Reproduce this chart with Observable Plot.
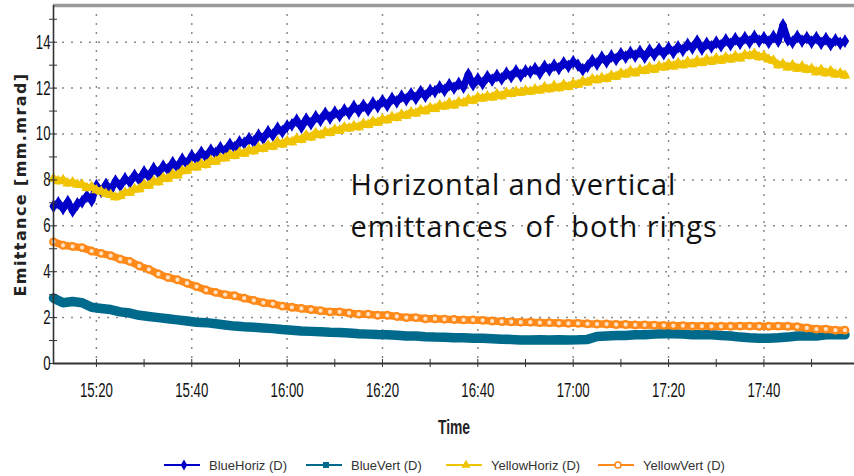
<!DOCTYPE html>
<html><head><meta charset="utf-8">
<script src="https://cdn.jsdelivr.net/npm/d3@7"></script>
<script src="https://cdn.jsdelivr.net/npm/@observablehq/plot@0.6"></script>
<style>
body{margin:0;background:#fff;}
#chart svg, #legend svg{display:block;}
</style></head><body><div id="chart"></div><div id="legend"></div><script>
// ---- data ----
const startTime = "15:11";          // first sample
const horizStepMin = 1;             // horizontal emittances, one sample per minute
const vertStepMin = 2;              // vertical emittances, one sample per two minutes
const domainTimes = ["15:11", "17:59"];

const blueHoriz = [
  6.85, 7.0, 6.75, 7.05, 6.65, 6.95, 7.05, 7.3, 7.1, 7.75,
  7.5, 7.8, 7.55, 7.95, 7.75, 8.05, 7.9, 8.2, 8.0, 8.35,
  8.15, 8.5, 8.3, 8.6, 8.45, 8.75, 8.55, 8.9, 8.7, 9.05,
  8.9, 9.2, 9.0, 9.3, 9.15, 9.4, 9.25, 9.55, 9.4, 9.65,
  9.6, 9.8, 9.65, 9.95, 9.8, 10.1, 9.95, 10.25, 10.1, 10.35,
  10.4, 10.6, 10.3, 10.65, 10.45, 10.75, 10.6, 10.9, 10.7, 10.95,
  10.8, 11.05, 10.9, 11.2, 11.0, 11.25, 11.05, 11.35, 11.2, 11.45,
  11.25, 11.55, 11.4, 11.65, 11.5, 11.75, 11.55, 11.85, 11.65, 11.9,
  11.85, 12.05, 11.9, 12.15, 12.0, 12.2, 12.05, 12.6, 12.15, 12.4,
  12.2, 12.5, 12.35, 12.55, 12.4, 12.65, 12.5, 12.75, 12.55, 12.75,
  12.7, 12.85, 12.65, 12.95, 12.8, 13.0, 12.85, 13.1, 12.95, 13.15,
  13.0, 12.8, 12.95, 13.2, 13.05, 13.35, 13.15, 13.4, 13.25, 13.5,
  13.35, 13.55, 13.4, 13.6, 13.35, 13.65, 13.45, 13.7, 13.5, 13.75,
  13.55, 13.8, 13.65, 13.9, 13.75, 14.05, 13.7, 13.95, 13.8, 14.0,
  13.85, 14.1, 13.9, 14.15, 13.95, 14.2, 14.0, 14.25, 14.05, 14.2,
  14.0, 14.25, 14.05, 14.75, 14.1, 14.0, 14.25, 14.05, 14.2, 14.0,
  14.2, 13.95, 14.15, 13.9, 14.1, 13.95, 14.05
];
const yellowHoriz = [
  8.05, 7.95, 8.0, 7.85, 7.9, 7.8, 7.8, 7.65, 7.7, 7.55,
  7.5, 7.4, 7.35, 7.25, 7.3, 7.45, 7.45, 7.6, 7.6, 7.8,
  7.75, 7.95, 7.9, 8.1, 8.05, 8.25, 8.2, 8.4, 8.4, 8.6,
  8.55, 8.7, 8.65, 8.85, 8.8, 8.95, 8.95, 9.1, 9.05, 9.2,
  9.15, 9.3, 9.25, 9.4, 9.35, 9.5, 9.45, 9.65, 9.55, 9.7,
  9.65, 9.8, 9.75, 9.95, 9.85, 10.05, 9.95, 10.1, 10.05, 10.2,
  10.15, 10.3, 10.25, 10.35, 10.3, 10.45, 10.4, 10.55, 10.5, 10.65,
  10.6, 10.75, 10.7, 10.85, 10.8, 10.95, 10.9, 11.05, 11.0, 11.15,
  11.1, 11.25, 11.2, 11.35, 11.25, 11.4, 11.35, 11.5, 11.45, 11.6,
  11.55, 11.65, 11.6, 11.75, 11.65, 11.8, 11.75, 11.85, 11.8, 11.9,
  11.85, 11.95, 11.9, 12.05, 11.95, 12.1, 12.0, 12.15, 12.05, 12.2,
  12.15, 12.3, 12.25, 12.4, 12.35, 12.45, 12.4, 12.55, 12.5, 12.65,
  12.6, 12.75, 12.65, 12.8, 12.75, 12.9, 12.8, 12.95, 12.9, 13.05,
  12.95, 13.1, 13.0, 13.15, 13.05, 13.2, 13.1, 13.25, 13.15, 13.3,
  13.2, 13.35, 13.25, 13.4, 13.3, 13.45, 13.4, 13.5, 13.35, 13.4,
  13.25, 13.2, 13.0, 13.05, 12.9, 13.0, 12.85, 12.95, 12.8, 12.85,
  12.7, 12.8, 12.65, 12.75, 12.6, 12.65, 12.55
];
const blueVert = [
  2.85, 2.65, 2.7, 2.65, 2.45, 2.4, 2.35, 2.25, 2.2, 2.1,
  2.05, 2.0, 1.95, 1.9, 1.85, 1.8, 1.78, 1.73, 1.68, 1.63,
  1.6, 1.58, 1.55, 1.52, 1.48, 1.45, 1.42, 1.4, 1.38, 1.36,
  1.35, 1.33, 1.3, 1.28, 1.26, 1.25, 1.23, 1.2, 1.2, 1.17,
  1.15, 1.14, 1.12, 1.12, 1.1, 1.1, 1.08, 1.06, 1.05, 1.02,
  1.02, 1.03, 1.02, 1.03, 1.02, 1.03, 1.05, 1.18, 1.2, 1.22,
  1.22, 1.25, 1.25, 1.28, 1.3, 1.3, 1.28, 1.25, 1.25, 1.25,
  1.22, 1.2, 1.15, 1.12, 1.1, 1.1, 1.12, 1.15, 1.2, 1.2,
  1.2, 1.25, 1.25, 1.25
];
const yellowVert = [
  5.3, 5.15, 5.1, 5.05, 4.9, 4.8, 4.7, 4.55, 4.45, 4.25,
  4.1, 3.9, 3.75, 3.65, 3.5, 3.35, 3.2, 3.1, 3.0, 2.95,
  2.85, 2.75, 2.65, 2.6, 2.5, 2.45, 2.4, 2.35, 2.3, 2.25,
  2.25, 2.2, 2.15, 2.15, 2.1, 2.1, 2.05, 2.0, 2.0, 1.95,
  1.95, 1.93, 1.92, 1.9, 1.9, 1.88, 1.85, 1.83, 1.82, 1.8,
  1.8, 1.78, 1.78, 1.76, 1.75, 1.75, 1.73, 1.72, 1.72, 1.7,
  1.7, 1.68, 1.68, 1.67, 1.66, 1.65, 1.65, 1.63, 1.63, 1.62,
  1.62, 1.62, 1.63, 1.63, 1.62, 1.62, 1.63, 1.62, 1.6, 1.55,
  1.5, 1.5, 1.45, 1.45
];
const xTickLabels = ["15:20", "15:40", "16:00", "16:20", "16:40", "17:00", "17:20", "17:40"];
const xMinorTickLabels = ["15:20","15:30","15:40","15:50","16:00","16:10","16:20","16:30","16:40","16:50","17:00","17:10","17:20","17:30","17:40","17:50"];
const yTickLabels = [0, 2, 4, 6, 8, 10, 12, 14];
const yMinorTicks = [0, 1, 2, 3, 4, 5, 6, 7, 8, 9, 10, 11, 12, 13, 14, 15];
const yMax = 15.6;
const seriesNames = ["BlueHoriz (D)", "BlueVert (D)", "YellowHoriz (D)", "YellowVert (D)"];
const seriesColors = ["#0000c8", "#006a8c", "#f0c400", "#ff8a1a"];
const seriesSymbols = ["diamond", "square", "triangle", "circle"];
const yAxisLabel = "Emittance [mm.mrad]";
const xAxisLabel = "Time";
const annotationLines = ["Horizontal and vertical", "emittances  of  both rings"];
const annotationTime = "16:13:18";
const annotationValues = [7.33, 5.5];

// ---- helpers ----
function tm(s) { const [h, m, sec] = s.split(":").map(Number); return new Date(Date.UTC(2000, 0, 1, h, m, sec || 0)); }
const t0 = tm(startTime);
const rows = (vals, step) => vals.map((v, i) => ({t: new Date(+t0 + i * step * 60000), v}));
const bh = rows(blueHoriz, horizStepMin);
const yh = rows(yellowHoriz, horizStepMin);
const bv = rows(blueVert, vertStepMin);
const yv = rows(yellowVert, vertStepMin);
const fmt = d3.utcFormat("%H:%M");
const annot = annotationLines.map((label, i) => ({t: tm(annotationTime), v: annotationValues[i], label}));
const sans = "'Liberation Sans', Arial, sans-serif";

const grid = {stroke: "#8a8a8a", strokeDasharray: "2,7", strokeWidth: 1.5, strokeOpacity: 1};

const plot = Plot.plot({
  width: 854, height: 440,
  marginLeft: 53, marginRight: 0, marginTop: 5, marginBottom: 77,
  style: {fontFamily: sans, fontSize: "20px", color: "#111", background: "white", overflow: "visible"},
  x: {type: "utc", domain: domainTimes.map(tm)},
  y: {domain: [0, yMax]},
  marks: [
    Plot.ruleX(xTickLabels.map(tm), grid),
    Plot.ruleY(yTickLabels.filter(d => d > 0), grid),
    Plot.ruleY([yMax], {stroke: "#9a9a9a", strokeWidth: 3.5}),
    // series
    Plot.line(bh, {x: "t", y: "v", stroke: seriesColors[0], strokeWidth: 7}),
    Plot.dot(bh, {x: "t", y: "v", symbol: "diamond", r: 4.2, fill: seriesColors[0]}),
    Plot.line(bv, {x: "t", y: "v", stroke: seriesColors[1], strokeWidth: 9.5}),
    Plot.line(yh, {x: "t", y: "v", stroke: seriesColors[2], strokeWidth: 7}),
    Plot.dot(yh, {x: "t", y: "v", symbol: "triangle", r: 4, fill: seriesColors[2]}),
    Plot.line(yv, {x: "t", y: "v", stroke: seriesColors[3], strokeWidth: 7.5}),
    Plot.dot(yv, {x: "t", y: "v", r: 3.3, stroke: seriesColors[3], strokeWidth: 2.3, fill: "#ffe2c4"}),
    // axes lines
    Plot.ruleX([tm(domainTimes[0])], {stroke: "#333", strokeWidth: 1.6}),
    Plot.ruleY([0], {stroke: "#333", strokeWidth: 2}),
    Plot.axisY({ticks: yMinorTicks, tickSize: 8, dx: 4, tickFormat: () => "", label: null, stroke: "#333"}),
    Plot.axisY({ticks: yTickLabels, tickSize: 0, tickPadding: 3, label: null, fontSize: 20}),
    Plot.axisX({ticks: xMinorTickLabels.map(tm), tickSize: 8, dy: -4, tickFormat: () => "", label: null, stroke: "#333"}),
    Plot.axisX({ticks: xTickLabels.map(tm), tickSize: 0, tickPadding: 19, tickFormat: fmt, label: null, fontSize: 20}),
    // axis titles
    Plot.text([yAxisLabel], {frameAnchor: "left", textAnchor: "middle", dx: -33, rotate: -90, text: d => d, fontSize: 16, fontWeight: "bold", fontFamily: "'DejaVu Sans', sans-serif", fill: "#222"}),
    Plot.text([xAxisLabel], {frameAnchor: "bottom", dy: 70, lineAnchor: "bottom", text: d => d, fontSize: 21, fontWeight: "bold", fill: "#222"}),
    // annotation
    Plot.text(annot, {x: "t", y: "v", text: "label", textAnchor: "start", lineAnchor: "bottom", fontSize: 29, fontFamily: "'Open Sans', sans-serif", fill: "#111"})
  ]
});
document.getElementById("chart").append(plot);

// ---- cosmetic post-processing: condensed tick fonts, letter-spaced titles ----
const condensedTexts = new Set([...xTickLabels, ...yTickLabels.map(String), xAxisLabel]);
plot.querySelectorAll("text").forEach(t => {
  const s = t.textContent;
  if (condensedTexts.has(s)) {
    const tr = t.getAttribute("transform");
    if (tr) t.setAttribute("transform", tr + " scale(0.66,1)");
    else {
      const x = t.getAttribute("x") || 0;
      t.removeAttribute("x");
      t.setAttribute("transform", `translate(${x},0) scale(0.66,1)`);
    }
  } else if (s === yAxisLabel) {
    t.style.letterSpacing = "1.4px";
  } else if (annotationLines.includes(s)) {
    t.style.whiteSpace = "pre";
    t.style.letterSpacing = "0.9px";
  }
});

// ---- legend (below the chart) ----
const legendX = [164, 306, 446, 598];
const lg = d3.select("#legend").append("svg").attr("width", 854).attr("height", 36);
const symMap = {diamond: d3.symbolDiamond, square: d3.symbolSquare, triangle: d3.symbolTriangle, circle: d3.symbolCircle};
seriesNames.forEach((name, i) => {
  const g = lg.append("g").attr("transform", `translate(${legendX[i]},25)`);
  g.append("line").attr("x1", 0).attr("x2", 36).attr("stroke", seriesColors[i]).attr("stroke-width", 2);
  const sym = g.append("path").attr("transform", "translate(20,0)")
    .attr("d", d3.symbol(symMap[seriesSymbols[i]], seriesSymbols[i] === "circle" ? 28 : 36)());
  if (seriesSymbols[i] === "circle") sym.attr("fill", "#fff").attr("stroke", seriesColors[i]).attr("stroke-width", 1.6);
  else sym.attr("fill", seriesColors[i]);
  g.append("text").attr("x", 45).attr("dy", "0.35em").attr("fill", "#333")
    .attr("font-family", sans).attr("font-size", 13).text(name);
});
</script></body></html>
